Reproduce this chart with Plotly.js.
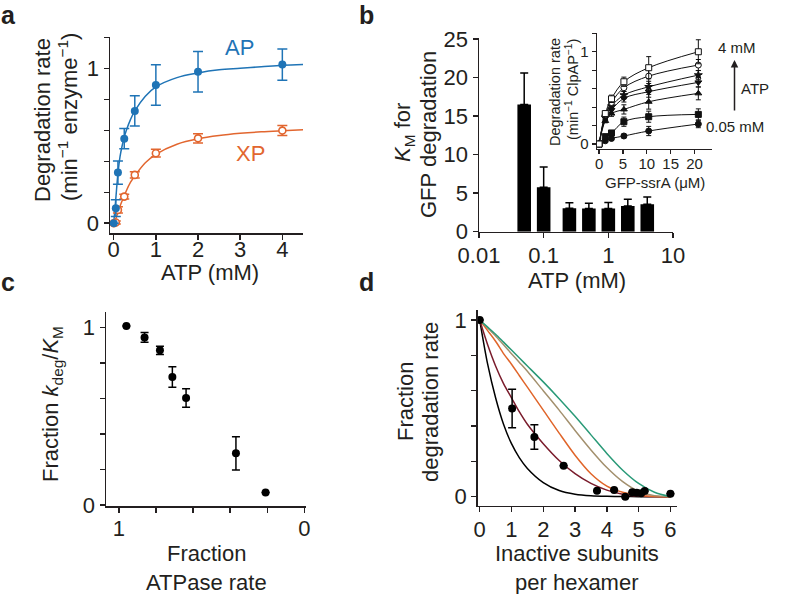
<!DOCTYPE html>
<html><head><meta charset="utf-8">
<script src="https://cdn.plot.ly/plotly-3.0.1.min.js"></script>
<style>html,body{margin:0;padding:0;background:#fff}</style>
</head><body><div id="chart" style="width:800px;height:594px"></div>
<script>
// ---------- Panel a ----------
const atpA = [0, 0.05, 0.1, 0.25, 0.5, 1, 2, 4];
const apRate = [0, 0.097, 0.327, 0.546, 0.725, 0.892, 0.978, 1.024];
const apErr = [0, 0.054, 0.075, 0.065, 0.098, 0.131, 0.131, 0.101];
const xpRate = [0, 0.005, 0.086, 0.172, 0.312, 0.452, 0.548, 0.598];
const xpErr = [0, 0.01, 0.02, 0.015, 0.02, 0.025, 0.03, 0.032];
const fitX = [0, 0.05, 0.1, 0.15, 0.2, 0.25, 0.3, 0.4, 0.5, 0.75, 1, 1.5, 2, 2.5, 3, 3.5, 4, 4.5];
const apFit = [0, 0.16, 0.32, 0.43, 0.5, 0.555, 0.6, 0.67, 0.725, 0.82, 0.88, 0.94, 0.97, 0.99, 1.0, 1.01, 1.02, 1.025];
const xpFit = [0, 0.03, 0.07, 0.11, 0.145, 0.175, 0.21, 0.265, 0.305, 0.39, 0.445, 0.51, 0.545, 0.566, 0.58, 0.59, 0.597, 0.603];

// ---------- Panel b ----------
const atpB = [0.05, 0.1, 0.25, 0.5, 1, 2, 4];
const kmB = [16.5, 5.77, 3.05, 3.0, 3.0, 3.33, 3.55];
const kmErr = [4.1, 2.63, 0.71, 0.7, 0.8, 0.87, 0.95];
const bTicks = [0.01, 0.1, 1, 10];
const bTickText = ['0.01', '0.1', '1', '10'];

// ---------- Inset ----------
const gfp = [0, 1.3, 2.6, 5.2, 10.4, 20.8];
const inset4 = [0, 0.33, 0.49, 0.675, 0.827, 1.0];
const inset2 = [0, 0.32, 0.45, 0.61, 0.736, 0.856];
const inset1 = [0, 0.29, 0.41, 0.53, 0.62, 0.747];
const inset05 = [0, 0.28, 0.37, 0.495, 0.567, 0.668];
const inset025 = [0, 0.25, 0.33, 0.375, 0.458, 0.549];
const inset01 = [0, 0.08, 0.12, 0.242, 0.296, 0.321];
const inset005 = [0, 0.035, 0.06, 0.087, 0.141, 0.217];
const err4 = [0, 0.02, 0.04, 0.05, 0.12, 0.13];
const err2 = [0, 0.02, 0.03, 0.04, 0.08, 0.06];
const err1 = [0, 0.02, 0.03, 0.04, 0.06, 0.05];
const err05 = [0, 0.02, 0.03, 0.04, 0.06, 0.05];
const err025 = [0, 0.02, 0.03, 0.05, 0.08, 0.07];
const err01 = [0, 0.01, 0.02, 0.05, 0.06, 0.06];
const err005 = [0, 0.01, 0.02, 0.02, 0.05, 0.04];

// ---------- Panel c ----------
const atpaseFrac = [0.96, 0.862, 0.779, 0.712, 0.638, 0.369, 0.209];
const kdegFrac = [1.009, 0.945, 0.872, 0.722, 0.603, 0.291, 0.07];
const kdegErr = [0, 0.027, 0.023, 0.058, 0.052, 0.094, 0];

// ---------- Panel d ----------
const inactive = [0, 1.02, 1.72, 2.64, 3.69, 4.23, 4.58, 4.8, 4.94, 5.08, 5.19, 6.0];
const fracDeg = [1.0, 0.5, 0.338, 0.175, 0.034, 0.038, 0.0, 0.025, 0.023, 0.019, 0.032, 0.017];
const fracErr = [0, 0.109, 0.069, 0, 0, 0, 0, 0, 0, 0, 0, 0];
const modelX = [0, 0.25, 0.5, 0.75, 1, 1.25, 1.5, 2, 2.5, 3, 3.5, 4, 4.5, 5, 5.5, 6];
const modelBlack = [1, 0.75, 0.56, 0.41, 0.3, 0.22, 0.16, 0.08, 0.035, 0.014, 0.005, 0.002, 0.001, 0, 0, 0];
const modelMaroon = [1, 0.86, 0.74, 0.64, 0.56, 0.48, 0.41, 0.30, 0.205, 0.13, 0.075, 0.037, 0.014, 0.004, 0.001, 0];
const modelOrange = [1, 0.94, 0.88, 0.81, 0.75, 0.685, 0.62, 0.49, 0.36, 0.235, 0.13, 0.06, 0.025, 0.008, 0.001, 0];
const modelGrey = [1, 0.955, 0.91, 0.86, 0.81, 0.76, 0.71, 0.60, 0.49, 0.375, 0.265, 0.165, 0.085, 0.03, 0.006, 0];
const modelGreen = [1, 0.96, 0.92, 0.875, 0.83, 0.785, 0.74, 0.65, 0.555, 0.455, 0.35, 0.245, 0.15, 0.075, 0.025, 0];

// ---------- styling ----------
const W = 800, H = 594;
const fx = p => p / W, fy = p => 1 - p / H;
const FONT = 'Liberation Sans, Arial, Helvetica, sans-serif';
const INK = '#231f20';
const BLUE = '#1f74b6', ORANGE = '#e2662f';

function axis(o) {
  return Object.assign({
    showgrid: false, zeroline: false, showline: true, linecolor: INK, linewidth: 1.5,
    ticks: 'outside', ticklen: 5, tickwidth: 1.5, tickcolor: INK,
    tickfont: {family: FONT, size: 22, color: INK}, fixedrange: true
  }, o);
}
const step02 = [0, 0.2, 0.4, 0.6, 0.8, 1.0];

const traces = [];
// Panel a
traces.push({x: fitX, y: apFit, xaxis: 'x', yaxis: 'y', mode: 'lines', line: {color: BLUE, width: 1.5, shape: 'spline'}, hoverinfo: 'skip'});
traces.push({x: fitX, y: xpFit, xaxis: 'x', yaxis: 'y', mode: 'lines', line: {color: ORANGE, width: 1.5, shape: 'spline'}, hoverinfo: 'skip'});
traces.push({x: atpA, y: xpRate, xaxis: 'x', yaxis: 'y', mode: 'markers',
  marker: {symbol: 'circle', size: 7, color: '#fff', line: {color: ORANGE, width: 1.6}},
  error_y: {type: 'data', array: xpErr, color: ORANGE, thickness: 1.5, width: 5}});
traces.push({x: atpA, y: apRate, xaxis: 'x', yaxis: 'y', mode: 'markers',
  marker: {symbol: 'circle', size: 8, color: BLUE},
  error_y: {type: 'data', array: apErr, color: BLUE, thickness: 1.5, width: 5}});

// Panel b: error bars on the visible log axis
traces.push({x: atpB, y: kmB, xaxis: 'x2', yaxis: 'y2', mode: 'markers',
  marker: {size: 1, color: 'rgba(0,0,0,0)'},
  error_y: {type: 'data', symmetric: false, array: kmErr, arrayminus: kmB.map(() => 0), color: '#000', thickness: 1.5, width: 4}});
// bars on an overlaid linear axis in decades, aligned with the log axis above
traces.push({x: atpB.map(v => Math.log10(v)), y: kmB, xaxis: 'x3', yaxis: 'y2', type: 'bar', width: 0.21,
  marker: {color: '#000', line: {width: 0}}});

// Inset
const insetSeries = [
  [inset005, err005, 'circle', '#111'],
  [inset01, err01, 'square', '#111'],
  [inset025, err025, 'triangle-up', '#111'],
  [inset05, err05, 'triangle-down', '#111'],
  [inset1, err1, 'star', '#111'],
  [inset2, err2, 'circle', '#fff'],
  [inset4, err4, 'square', '#fff']
];
insetSeries.forEach(s => {
  traces.push({x: gfp, y: s[0], xaxis: 'x4', yaxis: 'y4', mode: 'lines+markers',
    line: {color: '#111', width: 1, shape: 'spline'},
    marker: {symbol: s[2], size: 6, color: s[3], line: {color: '#111', width: 1}},
    error_y: {type: 'data', array: s[1], color: '#111', thickness: 1, width: 2.5}});
});

// Panel c
traces.push({x: atpaseFrac, y: kdegFrac, xaxis: 'x5', yaxis: 'y5', mode: 'markers',
  marker: {size: 8, color: '#000'},
  error_y: {type: 'data', array: kdegErr, color: '#000', thickness: 1.5, width: 4}});

// Panel d
[[modelBlack, '#000000'], [modelMaroon, '#7a1c2c'], [modelOrange, '#e0652a'], [modelGrey, '#a3906e'], [modelGreen, '#2a9a78']].forEach(m => {
  traces.push({x: modelX, y: m[0], xaxis: 'x6', yaxis: 'y6', mode: 'lines', line: {color: m[1], width: 1.5, shape: 'spline', smoothing: 0.8}, hoverinfo: 'skip'});
});
traces.push({x: inactive, y: fracDeg, xaxis: 'x6', yaxis: 'y6', mode: 'markers',
  marker: {size: 8, color: '#000'},
  error_y: {type: 'data', array: fracErr, color: '#000', thickness: 1.5, width: 4}});

function ann(text, x, y, size, extra) {
  return Object.assign({text: text, x: fx(x), y: fy(y), xref: 'paper', yref: 'paper', showarrow: false,
    xanchor: 'center', yanchor: 'middle', font: {family: FONT, size: size, color: INK}}, extra || {});
}
const rot = {textangle: -90};

const layout = {
  width: W, height: H, margin: {l: 0, r: 0, t: 0, b: 0},
  paper_bgcolor: '#fff', plot_bgcolor: 'rgba(0,0,0,0)', showlegend: false,
  font: {family: FONT, color: INK},
  xaxis: axis({domain: [fx(110), fx(303)], range: [-0.088, 4.49], tickvals: [0, 1, 2, 3, 4], anchor: 'y', ticklabelstandoff: -9}),
  yaxis: axis({domain: [fy(233), fy(37.3)], range: [-0.063, 1.2], tickvals: [0, 0.2, 0.4, 0.6, 0.8, 1.0, 1.2], ticktext: ['0', '', '', '', '', '1', ''], anchor: 'x'}),
  xaxis2: axis({type: 'log', domain: [fx(479), fx(673)], range: [-2, 1], tickvals: bTicks, ticktext: bTickText, anchor: 'y2', ticklabelstandoff: -2}),
  yaxis2: axis({domain: [fy(231.7), fy(38.3)], range: [0, 25.1], tickvals: [0, 5, 10, 15, 20, 25], anchor: 'x2'}),
  xaxis3: {overlaying: 'x2', anchor: 'y2', range: [-2, 1], visible: false, fixedrange: true},
  xaxis4: axis({domain: [fx(596.7), fx(711.7)], range: [-0.5, 23.6], tickvals: [0, 5, 10, 15, 20], anchor: 'y4', ticklen: 4, linewidth: 1.2, tickwidth: 1.2, ticklabelstandoff: -3, tickfont: {family: FONT, size: 15, color: INK}}),
  yaxis4: axis({domain: [fy(149), fy(33.3)], range: [-0.054, 1.2], tickvals: [0, 0.2, 0.4, 0.6, 0.8, 1.0, 1.2], ticktext: ['0', '', '', '', '', '1', ''], anchor: 'x4', ticklen: 4, linewidth: 1.2, tickwidth: 1.2, tickfont: {family: FONT, size: 15, color: INK}}),
  xaxis5: axis({domain: [fx(106), fx(306)], range: [1.07, -0.009], tickvals: [1, 0.8, 0.6, 0.4, 0.2, 0], ticktext: ['1', '', '', '', '', '0'], anchor: 'y5', ticklabelstandoff: -3}),
  yaxis5: axis({domain: [fy(506), fy(311.7)], range: [-0.006, 1.09], tickvals: step02, ticktext: ['0', '', '', '', '', '1'], anchor: 'x5'}),
  xaxis6: axis({domain: [fx(477.7), fx(676.7)], range: [-0.063, 6.198], tickvals: [0, 1, 2, 3, 4, 5, 6], anchor: 'y6', ticklabelstandoff: -2}),
  yaxis6: axis({domain: [fy(505.7), fy(310)], range: [-0.051, 1.057], tickvals: step02, ticktext: ['0', '', '', '', '', '1'], anchor: 'x6'}),
  annotations: [
    ann('<b>a</b>', 8, 15, 25), ann('<b>b</b>', 366, 15, 25), ann('<b>c</b>', 8, 282, 25), ann('<b>d</b>', 366, 282, 25),
    // panel a
    ann('Degradation rate', 43, 120, 22, rot),
    ann('(min<sup>−1</sup> enzyme<sup>−1</sup>)', 68, 117, 22, rot),
    ann('ATP (mM)', 210, 272, 22),
    ann('AP', 239, 47, 22, {font: {family: FONT, size: 22, color: BLUE}}),
    ann('XP', 251, 153, 22, {font: {family: FONT, size: 22, color: ORANGE}}),
    // panel b
    ann('<i>K</i><sub>M</sub> for', 404, 133, 22, rot),
    ann('GFP degradation', 428, 135, 22, rot),
    ann('ATP (mM)', 577, 280, 22),
    // inset
    ann('Degradation rate', 555, 92, 14.5, rot),
    ann('(min<sup>−1</sup> ClpAP<sup>−1</sup>)', 572, 90, 14.5, rot),
    ann('GFP-ssrA (μM)', 655, 182, 15),
    ann('4 mM', 737, 48, 15),
    ann('ATP', 755, 88, 15),
    ann('0.05 mM', 735, 127, 15),
    {x: fx(734.5), y: fy(60), ax: 0, ay: 52, xref: 'paper', yref: 'paper', text: '', showarrow: true,
     arrowhead: 2, arrowsize: 1, arrowwidth: 1.5, arrowcolor: INK},
    // panel c
    ann('Fraction <i>k</i><sub>deg</sub>/<i>K</i><sub>M</sub>', 52, 404, 22, rot),
    ann('Fraction', 207, 553, 22),
    ann('ATPase rate', 207, 582, 22),
    // panel d
    ann('Fraction', 405, 402, 22, rot),
    ann('degradation rate', 430, 402, 22, rot),
    ann('Inactive subunits', 577, 553, 22),
    ann('per hexamer', 577, 582, 22)
  ]
};

Plotly.newPlot('chart', traces, layout, {staticPlot: true, displayModeBar: false});
</script>
</body></html>
